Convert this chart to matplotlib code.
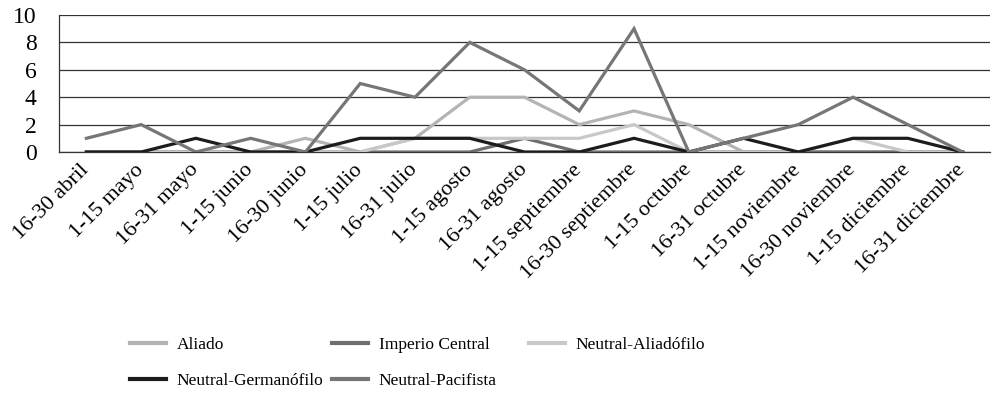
import matplotlib
matplotlib.use("Agg")
import matplotlib.pyplot as plt
from matplotlib.lines import Line2D

plt.rcParams['font.family'] = ['Liberation Serif', 'DejaVu Serif']

categories = ["16-30 abril", "1-15 mayo", "16-31 mayo", "1-15 junio", "16-30 junio",
              "1-15 julio", "16-31 julio", "1-15 agosto", "16-31 agosto",
              "1-15 septiembre", "16-30 septiembre", "1-15 octubre", "16-31 octubre",
              "1-15 noviembre", "16-30 noviembre", "1-15 diciembre", "16-31 diciembre"]

aliado = [0, 0, 0, 0, 1, 0, 1, 4, 4, 2, 3, 2, 0, 0, 0, 0, 0]
imperio_central = [0, 0, 0, 0, 0, 0, 0, 0, 1, 0, 0, 0, 0, 0, 0, 0, 0]
neutral_aliadofilo = [0, 0, 0, 0, 0, 0, 1, 1, 1, 1, 2, 0, 0, 0, 1, 0, 0]
neutral_germanofilo = [0, 0, 1, 0, 0, 1, 1, 1, 0, 0, 1, 0, 1, 0, 1, 1, 0]
neutral_pacifista = [1, 2, 0, 1, 0, 5, 4, 8, 6, 3, 9, 0, 1, 2, 4, 2, 0]

series_names = ["Aliado", "Imperio Central", "Neutral-Aliadófilo",
                "Neutral-Germanófilo", "Neutral-Pacifista"]
series_values = [aliado, imperio_central, neutral_aliadofilo,
                 neutral_germanofilo, neutral_pacifista]
colors = ["#b4b4b4", "#6e6e6e", "#c8c8c8", "#1c1c1c", "#767676"]

fig = plt.figure(figsize=(9.92, 3.98), dpi=100)
ax = fig.add_axes([59/992, 1 - 152/398, (990 - 59)/992, (152 - 15)/398])

x = list(range(len(categories)))
lines = []
for name, vals, c in zip(series_names, series_values, colors):
    ln, = ax.plot(x, vals, color=c, lw=2.3, label=name, solid_joinstyle='miter', zorder=3)
    lines.append(ln)

ax.set_xlim(-0.5, len(categories) - 0.5)
ax.set_ylim(0, 10)
ax.set_yticks([0, 2, 4, 6, 8, 10])
ax.set_yticklabels(["0", "2", "4", "6", "8", "10"], fontsize=17)
ax.yaxis.grid(True, color="#333333", lw=0.9)
ax.set_axisbelow(True)
ax.set_xticks(x)
ax.set_xticklabels(categories, rotation=45, ha='right', va='center',
                   rotation_mode='anchor', fontsize=16)
ax.tick_params(axis='both', length=0)
ax.tick_params(axis='y', pad=16)
ax.tick_params(axis='x', pad=11)
for s in ['top', 'right']:
    ax.spines[s].set_visible(False)
ax.spines['left'].set_color("#333333")
ax.spines['left'].set_linewidth(0.9)
ax.spines['bottom'].set_color("#333333")
ax.spines['bottom'].set_linewidth(0.9)

positions = [(130, 345), (332, 345), (529, 345), (130, 381), (332, 381)]
for ln, (px, py) in zip(lines, positions):
    h = Line2D([], [], color=ln.get_color(), lw=3)
    fig.legend([h], [ln.get_label()], loc='center left',
               bbox_to_anchor=(px/992, 1 - py/398), frameon=False,
               borderpad=0, borderaxespad=0, handlelength=2.1,
               handletextpad=0.6, fontsize=12.5)

fig.savefig("out.png", dpi=100)
